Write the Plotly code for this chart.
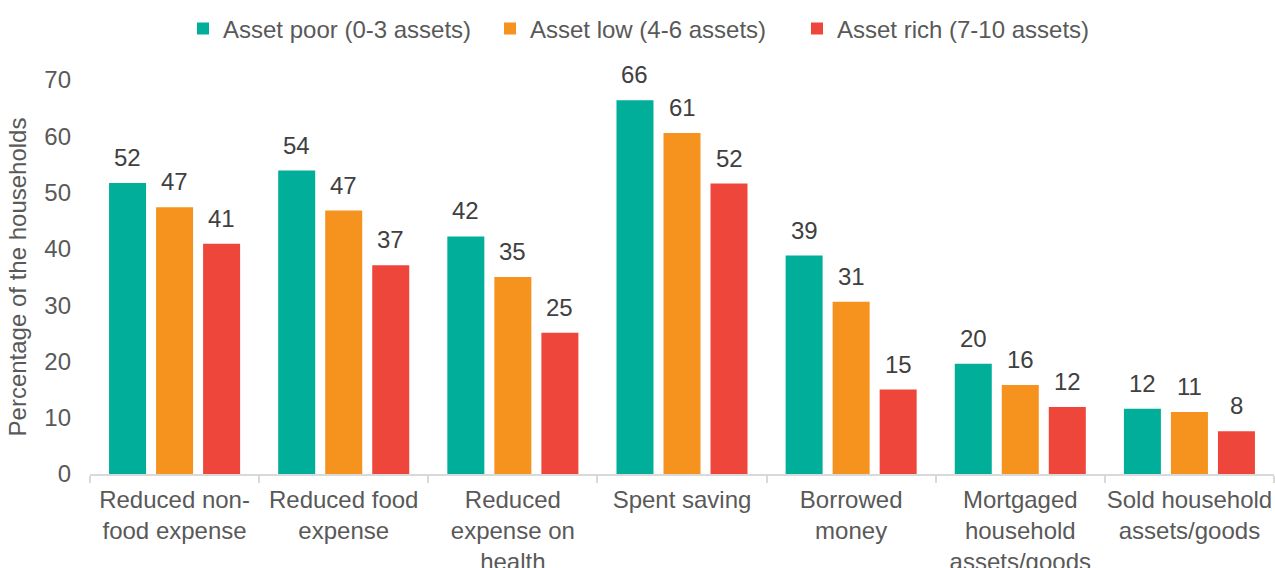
import plotly.graph_objects as go

categories = ["Reduced non-<br>food expense", "Reduced food<br>expense", "Reduced<br>expense on<br>health",
              "Spent saving", "Borrowed<br>money", "Mortgaged<br>household<br>assets/goods",
              "Sold household<br>assets/goods"]
series_names = ["Asset poor (0-3 assets)", "Asset low (4-6 assets)", "Asset rich (7-10 assets)"]
asset_poor = [51.7, 53.9, 42.2, 66.4, 38.8, 19.6, 11.6]
asset_low = [47.4, 46.8, 35.0, 60.6, 30.6, 15.8, 11.0]
asset_rich = [40.9, 37.1, 25.1, 51.6, 15.0, 11.9, 7.6]
colors = ["#00AE9A", "#F6921E", "#EF463B"]
y_ticks = [0, 10, 20, 30, 40, 50, 60, 70]

FONT = "Liberation Sans, Arial, sans-serif"
FS = 24
BARGAP = 0.166
BARGROUPGAP = 0.213

fig = go.Figure()
all_series = [asset_poor, asset_low, asset_rich]
for name, vals, col in zip(series_names, all_series, colors):
    fig.add_trace(go.Bar(x=categories, y=vals, name=name, marker=dict(color=col, line=dict(width=0))))

annotations = []
n = len(all_series)
slot = (1 - BARGAP) / n
for i, vals in enumerate(all_series):
    for j, v in enumerate(vals):
        annotations.append(dict(
            x=j + (i - (n - 1) / 2) * slot, y=v, xref="x", yref="y",
            text=f"{v:.0f}", showarrow=False, yanchor="bottom", yshift=10,
            font=dict(family=FONT, size=FS, color="#404040")))

fig.update_layout(
    width=1275, height=568,
    margin=dict(l=90, r=1, t=80, b=94),
    paper_bgcolor="white", plot_bgcolor="white",
    barmode="group", bargap=BARGAP, bargroupgap=BARGROUPGAP,
    font=dict(family=FONT, size=FS, color="#595959"),
    showlegend=True,
    legend=dict(orientation="h", x=0.5 + 6 / 1275, xanchor="center", xref="container",
                y=1 - 29 / 568, yanchor="middle", yref="container",
                font=dict(family=FONT, size=FS, color="#595959"), itemwidth=30,
                entrywidth=262, entrywidthmode="pixels",
                traceorder="normal"),
    annotations=annotations,
)
fig.update_xaxes(
    type="category", showline=True, linecolor="#D9D9D9", linewidth=1.5,
    ticks="outside", tickson="boundaries", ticklen=7, tickcolor="#D9D9D9", tickwidth=1.5,
    tickangle=0, ticklabelstandoff=3,
    tickfont=dict(family=FONT, size=FS, color="#595959"), showgrid=False, automargin=False,
)
fig.update_yaxes(
    range=[0, 70], tickvals=y_ticks, showgrid=False, showline=False, zeroline=False,
    tickfont=dict(family=FONT, size=FS, color="#595959"), ticklabelstandoff=18,
    title=dict(text="Percentage of the households", standoff=10,
               font=dict(family=FONT, size=FS, color="#595959")),
    automargin=False,
)

fig.write_html("out.html", config={"displayModeBar": False},
               post_script="document.body.style.margin='0';")
